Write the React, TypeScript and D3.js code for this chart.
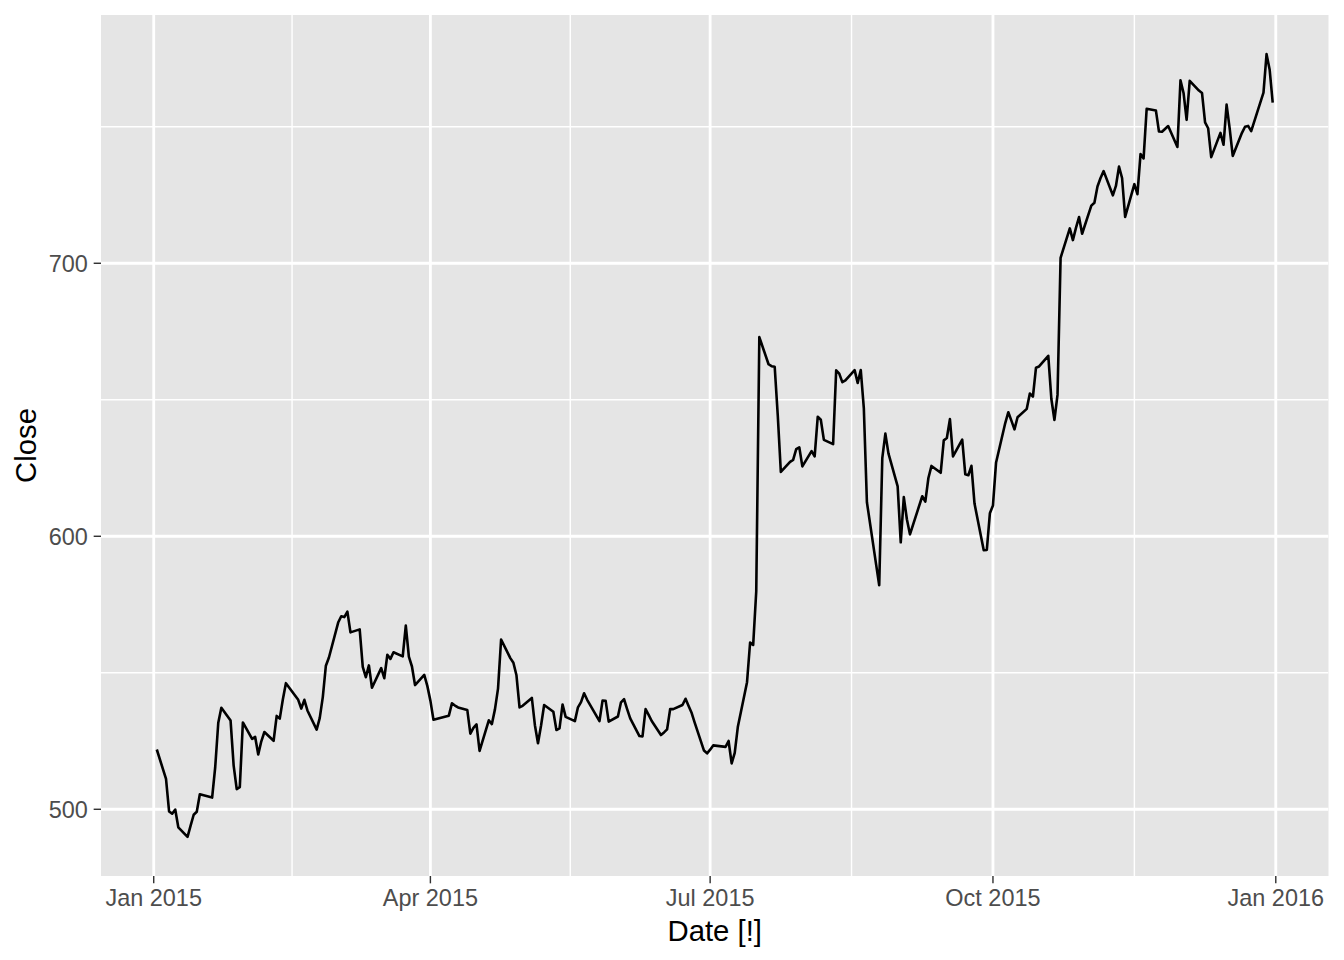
import React from "react";
import * as d3 from "d3";

// GOOG closing prices, 2015 (by quarter)
const q1Dates = ["2015-01-02","2015-01-05","2015-01-06","2015-01-07","2015-01-08","2015-01-09","2015-01-12","2015-01-13","2015-01-14","2015-01-15","2015-01-16","2015-01-20","2015-01-21","2015-01-22","2015-01-23","2015-01-26","2015-01-27","2015-01-28","2015-01-29","2015-01-30","2015-02-02","2015-02-03","2015-02-04","2015-02-05","2015-02-06","2015-02-09","2015-02-10","2015-02-11","2015-02-12","2015-02-13","2015-02-17","2015-02-18","2015-02-19","2015-02-20","2015-02-23","2015-02-24","2015-02-25","2015-02-26","2015-02-27","2015-03-02","2015-03-03","2015-03-04","2015-03-05","2015-03-06","2015-03-09","2015-03-10","2015-03-11","2015-03-12","2015-03-13","2015-03-16","2015-03-17","2015-03-18","2015-03-19","2015-03-20","2015-03-23","2015-03-24","2015-03-25","2015-03-26","2015-03-27","2015-03-30","2015-03-31"];
const q1Close = [521.9,511.1,499.2,498.4,499.9,493.4,489.9,494.0,498.0,499.1,505.5,504.3,515.4,531.7,537.2,532.5,516.0,507.4,508.1,531.8,525.8,526.5,520.1,524.9,528.3,525.1,534.2,533.2,540.2,546.2,540.1,536.9,540.1,536.2,529.2,533.4,541.1,552.6,555.6,568.4,570.7,570.4,572.4,564.8,565.9,552.2,548.4,552.7,544.5,551.7,548.0,556.6,555.1,557.5,556.0,567.3,555.9,552.3,545.5,549.2,545.2];

const q2Dates = ["2015-04-01","2015-04-02","2015-04-06","2015-04-07","2015-04-08","2015-04-09","2015-04-10","2015-04-13","2015-04-14","2015-04-15","2015-04-16","2015-04-17","2015-04-20","2015-04-21","2015-04-22","2015-04-23","2015-04-24","2015-04-27","2015-04-28","2015-04-29","2015-04-30","2015-05-01","2015-05-04","2015-05-05","2015-05-06","2015-05-07","2015-05-08","2015-05-11","2015-05-12","2015-05-13","2015-05-14","2015-05-15","2015-05-18","2015-05-19","2015-05-20","2015-05-21","2015-05-22","2015-05-26","2015-05-27","2015-05-28","2015-05-29","2015-06-01","2015-06-02","2015-06-03","2015-06-04","2015-06-05","2015-06-08","2015-06-09","2015-06-10","2015-06-11","2015-06-12","2015-06-15","2015-06-16","2015-06-17","2015-06-18","2015-06-19","2015-06-22","2015-06-23","2015-06-24","2015-06-25","2015-06-26","2015-06-29","2015-06-30"];
const q2Close = [539.8,532.8,534.0,534.3,538.8,538.0,537.3,536.4,527.7,529.8,531.1,521.4,532.6,531.2,536.6,544.2,562.2,555.37,553.68,549.08,537.34,537.9,540.78,530.8,524.22,530.7,538.22,535.7,529.04,529.62,538.4,533.85,532.3,537.36,539.27,542.51,540.11,532.32,539.79,539.78,532.11,533.99,539.18,540.31,536.7,533.33,526.83,526.69,536.69,534.61,532.33,527.2,528.15,529.26,536.73,536.69,538.19,540.48,537.84,535.23,531.69,521.52,520.51];

const q3Dates = ["2015-07-01","2015-07-02","2015-07-06","2015-07-07","2015-07-08","2015-07-09","2015-07-10","2015-07-13","2015-07-14","2015-07-15","2015-07-16","2015-07-17","2015-07-20","2015-07-21","2015-07-22","2015-07-23","2015-07-24","2015-07-27","2015-07-28","2015-07-29","2015-07-30","2015-07-31","2015-08-03","2015-08-04","2015-08-05","2015-08-06","2015-08-07","2015-08-10","2015-08-11","2015-08-12","2015-08-13","2015-08-14","2015-08-17","2015-08-18","2015-08-19","2015-08-20","2015-08-21","2015-08-24","2015-08-25","2015-08-26","2015-08-27","2015-08-28","2015-08-31","2015-09-01","2015-09-02","2015-09-03","2015-09-04","2015-09-08","2015-09-09","2015-09-10","2015-09-11","2015-09-14","2015-09-15","2015-09-16","2015-09-17","2015-09-18","2015-09-21","2015-09-22","2015-09-23","2015-09-24","2015-09-25","2015-09-28","2015-09-29","2015-09-30"];
const q3Close = [521.84,523.4,522.86,525.02,516.83,520.68,530.13,546.55,561.1,560.22,579.85,672.93,663.02,662.3,662.1,644.28,623.56,627.26,628.0,631.93,632.59,625.61,631.21,629.25,643.78,642.68,635.3,633.73,660.78,659.56,656.45,657.12,660.87,656.13,660.9,646.83,612.48,589.61,582.06,628.62,637.61,630.38,618.25,597.79,614.34,606.25,600.7,614.66,612.72,621.35,625.77,623.24,635.14,635.98,642.9,629.25,635.44,622.69,622.36,625.8,611.97,594.89,594.97,608.42];

const q4Dates = ["2015-10-01","2015-10-02","2015-10-05","2015-10-06","2015-10-07","2015-10-08","2015-10-09","2015-10-12","2015-10-13","2015-10-14","2015-10-15","2015-10-16","2015-10-19","2015-10-20","2015-10-21","2015-10-22","2015-10-23","2015-10-26","2015-10-27","2015-10-28","2015-10-29","2015-10-30","2015-11-02","2015-11-03","2015-11-04","2015-11-05","2015-11-06","2015-11-09","2015-11-10","2015-11-11","2015-11-12","2015-11-13","2015-11-16","2015-11-17","2015-11-18","2015-11-19","2015-11-20","2015-11-23","2015-11-24","2015-11-25","2015-11-27","2015-11-30","2015-12-01","2015-12-02","2015-12-03","2015-12-04","2015-12-07","2015-12-08","2015-12-09","2015-12-10","2015-12-11","2015-12-14","2015-12-15","2015-12-16","2015-12-17","2015-12-18","2015-12-21","2015-12-22","2015-12-23","2015-12-24","2015-12-28","2015-12-29","2015-12-30","2015-12-31"];
const q4Close = [611.29,626.91,641.47,645.44,642.36,639.16,643.61,646.67,652.3,651.16,661.74,662.2,666.1,650.28,642.61,651.79,702.0,712.78,708.49,712.95,716.92,710.81,721.11,722.16,728.11,731.25,733.76,724.89,728.32,735.4,731.23,717.0,728.96,725.3,740.0,738.41,756.6,755.98,748.28,748.15,750.26,742.6,767.04,762.38,752.54,766.81,763.25,762.37,751.61,749.46,738.87,747.77,743.4,758.09,749.43,739.31,747.77,750.0,750.31,748.4,762.51,776.6,771.0,758.88];

const xBreaks = ["2015-01-01", "2015-04-01", "2015-07-01", "2015-10-01", "2016-01-01"];
const yBreaks = [500, 600, 700];
const yMinorBreaks = [550, 650, 750];
const xTitle = "Date [!]";
const yTitle = "Close";

const W = 1344;
const H = 960;
const PT = 192 / 72;
const FONT = "'Liberation Sans', Arial, Helvetica, sans-serif";

export default function App() {
  const parse = d3.utcParse("%Y-%m-%d");
  const dates = [...q1Dates, ...q2Dates, ...q3Dates, ...q4Dates].map((s) => parse(s) as Date);
  const closes = [...q1Close, ...q2Close, ...q3Close, ...q4Close];
  const data = dates.map((d, i) => ({ date: d, close: closes[i] }));

  const panel = { left: 101, right: 1328.5, top: 15, bottom: 876 };

  const [x0, x1] = d3.extent(dates) as [Date, Date];
  const xSpan = +x1 - +x0;
  const x = d3
    .scaleUtc()
    .domain([new Date(+x0 - 0.05 * xSpan), new Date(+x1 + 0.05 * xSpan)])
    .range([panel.left, panel.right]);

  const [y0, y1] = d3.extent(closes) as [number, number];
  const ySpan = y1 - y0;
  const y = d3
    .scaleLinear()
    .domain([y0 - 0.05 * ySpan, y1 + 0.05 * ySpan])
    .range([panel.bottom, panel.top]);

  const xMajor = xBreaks.map((s) => parse(s) as Date);
  const xMinor = xMajor.slice(1).map((d, i) => new Date((+d + +xMajor[i]) / 2));
  const fmt = d3.utcFormat("%b %Y");

  const line = d3
    .line<{ date: Date; close: number }>()
    .x((d) => x(d.date))
    .y((d) => y(d.close));

  const tickLen = 2.75 * PT;
  const tickFs = 8.8 * PT;
  const titleFs = 11 * PT;
  const majorW = 2.84;
  const minorW = 1.42;

  return (
    <svg
      width={W}
      height={H}
      style={{ position: "absolute", left: 0, top: 0, display: "block", background: "#FFFFFF" }}
      fontFamily={FONT}
    >
      <rect x={0} y={0} width={W} height={H} fill="#FFFFFF" />
      <rect
        x={panel.left}
        y={panel.top}
        width={panel.right - panel.left}
        height={panel.bottom - panel.top}
        fill="#E5E5E5"
      />
      <clipPath id="pclip">
        <rect x={panel.left} y={panel.top} width={panel.right - panel.left} height={panel.bottom - panel.top} />
      </clipPath>
      <g clipPath="url(#pclip)">
        {yMinorBreaks.map((v) => (
          <line key={"ym" + v} x1={panel.left} x2={panel.right} y1={y(v)} y2={y(v)} stroke="#FFFFFF" strokeWidth={minorW} />
        ))}
        {xMinor.map((d, i) => (
          <line key={"xm" + i} x1={x(d)} x2={x(d)} y1={panel.top} y2={panel.bottom} stroke="#FFFFFF" strokeWidth={minorW} />
        ))}
        {yBreaks.map((v) => (
          <line key={"y" + v} x1={panel.left} x2={panel.right} y1={y(v)} y2={y(v)} stroke="#FFFFFF" strokeWidth={majorW} />
        ))}
        {xMajor.map((d, i) => (
          <line key={"x" + i} x1={x(d)} x2={x(d)} y1={panel.top} y2={panel.bottom} stroke="#FFFFFF" strokeWidth={majorW} />
        ))}
        <path d={line(data) || ""} fill="none" stroke="#000000" strokeWidth={2.6} strokeLinejoin="round" strokeLinecap="butt" />
      </g>

      {/* y axis */}
      {yBreaks.map((v) => (
        <g key={"yt" + v}>
          <line x1={panel.left - tickLen} x2={panel.left} y1={y(v)} y2={y(v)} stroke="#333333" strokeWidth={minorW} />
          <text
            x={panel.left - tickLen - 2.2 * PT}
            y={y(v) + tickFs * 0.355}
            textAnchor="end"
            fontSize={tickFs}
            fill="#4D4D4D"
          >
            {v}
          </text>
        </g>
      ))}

      {/* x axis */}
      {xMajor.map((d, i) => (
        <g key={"xt" + i}>
          <line x1={x(d)} x2={x(d)} y1={panel.bottom} y2={panel.bottom + tickLen} stroke="#333333" strokeWidth={minorW} />
          <text x={x(d)} y={906} textAnchor="middle" fontSize={tickFs} fill="#4D4D4D">
            {fmt(d)}
          </text>
        </g>
      ))}

      <text x={(panel.left + panel.right) / 2} y={941} textAnchor="middle" fontSize={titleFs} fill="#000000">
        {xTitle}
      </text>
      <text
        transform={`translate(36,${(panel.top + panel.bottom) / 2}) rotate(-90)`}
        textAnchor="middle"
        fontSize={titleFs}
        fill="#000000"
      >
        {yTitle}
      </text>
    </svg>
  );
}
